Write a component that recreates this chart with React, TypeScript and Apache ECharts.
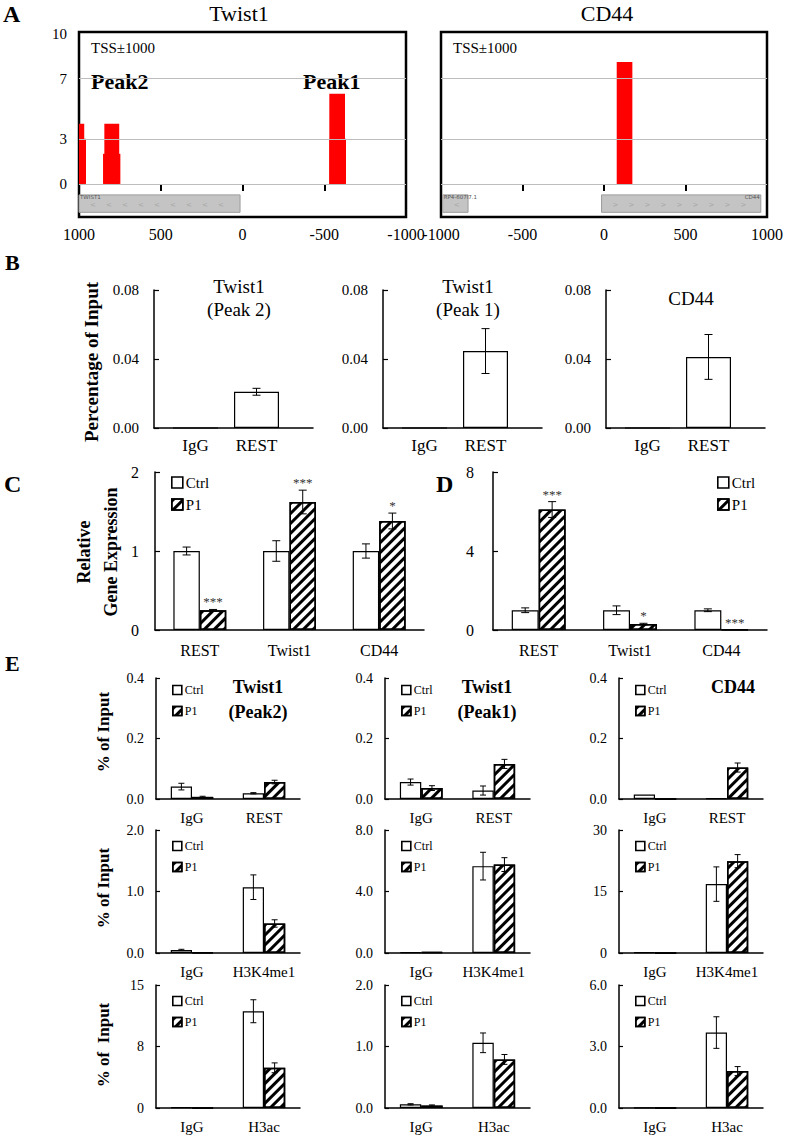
import React, { useEffect, useRef } from "react";
import * as echarts from "echarts";

const FONT = "'Liberation Serif', 'Times New Roman', Times, serif";

// ---------------- Panel A (peak tracks) ----------------
const aYLabels = [0, 3, 7, 10];
const aGridLevels = [0, 3, 7];
// [start, end, height]
const twistPeaks = [
  [1000, 968, 4.0],
  [1000, 957, 3.0],
  [845, 754, 4.0],
  [853, 747, 2.0],
  [-531, -627, 6.0],
  [-531, -633, 3.0],
];
const cd44Peaks = [[78, 174, 8.1]];
// [start, end]
const twistGenes = [[1000, 15]];
const twistGeneNames = ["TWIST1"];
const twistGeneDirs = ["<"];
const cd44Genes = [
  [-990, -834],
  [-15, 962],
];
const cd44GeneNames = ["RP4-607I7.1", "CD44"];
const cd44GeneDirs = ["<", ">"];

// ---------------- Panel B ----------------
const bCats = ["IgG", "REST"];
const bPeak2 = [0, 0.021];
const bPeak2Err = [0, 0.002];
const bPeak1 = [0, 0.0446];
const bPeak1Err = [0, 0.013];
const bCd44 = [0, 0.0412];
const bCd44Err = [0, 0.013];
const bTitles = ["Twist1\n(Peak 2)", "Twist1\n(Peak 1)", "CD44"];
const bYTicks = [0, 0.04, 0.08];

// ---------------- Panels C / D ----------------
const cdCats = ["REST", "Twist1", "CD44"];
const cCtrl = [1.0, 1.0, 1.0];
const cCtrlErr = [0.05, 0.13, 0.09];
const cP1 = [0.25, 1.62, 1.38];
const cP1Err = [0.01, 0.15, 0.1];
const cSig = ["***", "***", "*"];
const dCtrl = [1.0, 1.0, 1.0];
const dCtrlErr = [0.12, 0.22, 0.07];
const dP1 = [6.1, 0.3, 0.02];
const dP1Err = [0.4, 0.04, 0];
const dSig = ["***", "*", "***"];

// ---------------- Panel E ----------------
const eCatsRest = ["IgG", "REST"];
const eCatsH3K4 = ["IgG", "H3K4me1"];
const eCatsH3ac = ["IgG", "H3ac"];
// Twist1 Peak2
const eP2RestCtrl = [0.041, 0.019];
const eP2RestCtrlErr = [0.011, 0.002];
const eP2RestP1 = [0.007, 0.056];
const eP2RestP1Err = [0.002, 0.006];
const eP2K4Ctrl = [0.05, 1.07];
const eP2K4CtrlErr = [0.01, 0.2];
const eP2K4P1 = [0.01, 0.48];
const eP2K4P1Err = [0, 0.06];
const eP2AcCtrl = [0.08, 11.8];
const eP2AcCtrlErr = [0, 1.4];
const eP2AcP1 = [0.03, 4.9];
const eP2AcP1Err = [0, 0.6];
// Twist1 Peak1
const eP1RestCtrl = [0.056, 0.028];
const eP1RestCtrlErr = [0.01, 0.015];
const eP1RestP1 = [0.036, 0.116];
const eP1RestP1Err = [0.008, 0.015];
const eP1K4Ctrl = [0.05, 5.65];
const eP1K4CtrlErr = [0, 0.9];
const eP1K4P1 = [0.05, 5.75];
const eP1K4P1Err = [0, 0.45];
const eP1AcCtrl = [0.06, 1.06];
const eP1AcCtrlErr = [0.01, 0.16];
const eP1AcP1 = [0.04, 0.79];
const eP1AcP1Err = [0.01, 0.08];
// CD44
const eCdRestCtrl = [0.015, 0.002];
const eCdRestCtrlErr = [0, 0];
const eCdRestP1 = [0, 0.104];
const eCdRestP1Err = [0, 0.015];
const eCdK4Ctrl = [0.15, 16.8];
const eCdK4CtrlErr = [0, 4.2];
const eCdK4P1 = [0, 22.4];
const eCdK4P1Err = [0, 1.6];
const eCdAcCtrl = [0.02, 3.68];
const eCdAcCtrlErr = [0, 0.77];
const eCdAcP1 = [0, 1.8];
const eCdAcP1Err = [0, 0.22];
// axis ranges [max, interval, decimals] per row/col
const eRanges = [
  [
    [0.4, 0.2, 1],
    [0.4, 0.2, 1],
    [0.4, 0.2, 1],
  ],
  [
    [2, 1, 1],
    [8, 4, 1],
    [30, 15, 0],
  ],
  [
    [15, 7.5, 0],
    [2, 1, 1],
    [6, 3, 1],
  ],
];

const GAP = 0.41;
const HATCH = {
  symbol: "rect",
  symbolSize: 1,
  dashArrayX: [1, 0],
  dashArrayY: [3, 4],
  rotation: -Math.PI / 4,
  color: "#000",
  backgroundColor: "#fff",
};
const GENE_TOP = -0.73;
const GENE_BOT = -1.89;

function buildOption() {
  const grid: any[] = [];
  const xAxis: any[] = [];
  const yAxis: any[] = [];
  const series: any[] = [];
  const legend: any[] = [];
  const graphic: any[] = [];

  const txt = (text: string, x: number, y: number, o: any = {}) => ({
    type: "text",
    x,
    y,
    rotation: o.rot || 0,
    silent: true,
    style: {
      text,
      fontFamily: FONT,
      fontSize: o.size || 16,
      fontWeight: o.bold ? "bold" : "normal",
      fill: "#000",
      align: o.align || "center",
      verticalAlign: "middle",
      lineHeight: o.lh || undefined,
    },
  });

  const axLine = { show: true, lineStyle: { color: "#000", width: 1.5 } };
  const inTick = { show: true, inside: true, length: 5, lineStyle: { color: "#000", width: 1.2 } };

  // ---------- A ----------
  const peakRender = (params: any, api: any) => {
    const x0 = api.value(0);
    const x1 = api.value(1);
    const h = api.value(2);
    const p0 = api.coord([x0, h]);
    const p1 = api.coord([x1, 0]);
    return {
      type: "rect",
      shape: { x: Math.min(p0[0], p1[0]), y: p0[1], width: Math.abs(p1[0] - p0[0]), height: p1[1] - p0[1] },
      style: { fill: "#ff0000" },
    };
  };
  const geneRender = (names: string[], dirs: string[]) => (params: any, api: any) => {
    const s = api.value(0);
    const e = api.value(1);
    const p0 = api.coord([s, GENE_TOP]);
    const p1 = api.coord([e, GENE_BOT]);
    const x = Math.min(p0[0], p1[0]);
    const w = Math.abs(p1[0] - p0[0]);
    const y = p0[1];
    const h = p1[1] - p0[1];
    const dir = dirs[params.dataIndex];
    const children: any[] = [
      { type: "rect", shape: { x, y, width: w, height: h }, style: { fill: "#c4c4c4", stroke: "#9c9c9c", lineWidth: 1 } },
    ];
    for (let cx = x + 14; cx < x + w - 6; cx += 16) {
      children.push({
        type: "text",
        style: { text: dir, x: cx, y: y + h / 2 + 1, align: "center", verticalAlign: "middle", fontSize: 7, fill: "#a6a6a6", fontFamily: "DejaVu Sans" },
      });
    }
    children.push({
      type: "text",
      style: {
        text: names[params.dataIndex],
        x: dir === ">" ? x + w - 1 : x + 1,
        y: y + 2,
        align: dir === ">" ? "right" : "left",
        verticalAlign: "middle",
        fontSize: 5.5,
        fill: "#555",
        fontFamily: "DejaVu Sans",
      },
    });
    return { type: "group", children };
  };

  const aPanels = [
    { left: 79, width: 327, inverse: true, peaks: twistPeaks, genes: twistGenes, names: twistGeneNames, dirs: twistGeneDirs, labels: true },
    { left: 441, width: 326, inverse: false, peaks: cd44Peaks, genes: cd44Genes, names: cd44GeneNames, dirs: cd44GeneDirs, labels: false },
  ];
  aPanels.forEach((p) => {
    const gi = grid.length;
    grid.push({ left: p.left, top: 32, width: p.width, height: 185, show: true, borderColor: "#000", borderWidth: 2.5, backgroundColor: "transparent" });
    xAxis.push({
      type: "value",
      gridIndex: gi,
      min: -1000,
      max: 1000,
      interval: 500,
      inverse: p.inverse,
      axisLine: { show: false },
      axisTick: { show: true, inside: false, length: 7, lineStyle: { color: "#000", width: 2 } },
      splitLine: { show: false },
      axisLabel: { fontFamily: FONT, fontSize: 16, color: "#000", margin: 9, formatter: (v: number) => String(v) },
    });
    yAxis.push({
      type: "value",
      gridIndex: gi,
      min: -2.2,
      max: 10.1,
      axisLine: { show: false },
      axisTick: { show: false },
      splitLine: { show: false },
      axisLabel: p.labels
        ? { show: true, customValues: aYLabels, fontFamily: FONT, fontSize: 15, color: "#000", margin: 12, formatter: (v: number) => String(v) }
        : { show: false },
    });
    series.push({
      type: "custom",
      name: "genes" + gi,
      xAxisIndex: gi,
      yAxisIndex: gi,
      z: 1,
      silent: true,
      encode: { x: [0, 1] },
      data: p.genes,
      renderItem: geneRender(p.names, p.dirs),
      markLine: {
        silent: true,
        symbol: ["none", "none"],
        label: { show: false },
        lineStyle: { color: "#bdbdbd", width: 1, type: "solid" },
        data: aGridLevels.map((v) => ({ yAxis: v })),
      },
    });
    series.push({
      type: "custom",
      name: "peaks" + gi,
      xAxisIndex: gi,
      yAxisIndex: gi,
      z: 3,
      silent: true,
      encode: { x: [0, 1], y: 2 },
      data: p.peaks,
      renderItem: peakRender,
    });
  });
  graphic.push(txt("A", 3, 14, { size: 24, bold: true, align: "left" }));
  graphic.push(txt("Twist1", 239, 13, { size: 22 }));
  graphic.push(txt("CD44", 607, 13, { size: 22 }));
  graphic.push(txt("TSS\u00b11000", 91, 48, { size: 15, align: "left" }));
  graphic.push(txt("TSS\u00b11000", 453, 48, { size: 15, align: "left" }));
  graphic.push(txt("Peak2", 91, 81, { size: 22, bold: true, align: "left" }));
  graphic.push(txt("Peak1", 303, 81, { size: 22, bold: true, align: "left" }));

  // ---------- error bars ----------
  const errSeries = (gi: number, means: number[], errs: number[], side: number, sigs: string[] | null, cap: number) => ({
    type: "custom",
    name: "err" + gi + "_" + side,
    xAxisIndex: gi,
    yAxisIndex: gi,
    silent: true,
    z: 5,
    encode: { x: 0, y: 1 },
    data: means.map((m, i) => [i, m, errs[i]]),
    renderItem: (params: any, api: any) => {
      const i = api.value(0);
      const m = api.value(1);
      const e = api.value(2);
      const base = api.coord([i, m]);
      const band = api.size([1, 0])[0];
      const x = base[0] + (side * band * (1 - GAP)) / 4;
      const yt = api.coord([i, m + e])[1];
      const yb = api.coord([i, m - e])[1];
      const children: any[] = [];
      if (e > 0) {
        const st = { stroke: "#000", lineWidth: 1 };
        children.push({ type: "line", shape: { x1: x, y1: yt, x2: x, y2: yb }, style: st });
        children.push({ type: "line", shape: { x1: x - cap, y1: yt, x2: x + cap, y2: yt }, style: st });
        children.push({ type: "line", shape: { x1: x - cap, y1: yb, x2: x + cap, y2: yb }, style: st });
      }
      const s = sigs ? sigs[params.dataIndex] : "";
      if (s) {
        children.push({
          type: "text",
          style: { text: s, x, y: yt - 1, align: "center", verticalAlign: "bottom", fontSize: 13, fontFamily: FONT, fill: "#333" },
        });
      }
      return { type: "group", children };
    },
  });

  // ---------- B ----------
  const bData = [
    [bPeak2, bPeak2Err],
    [bPeak1, bPeak1Err],
    [bCd44, bCd44Err],
  ];
  const bLefts = [154, 383, 606];
  bLefts.forEach((left, k) => {
    const gf = grid.length;
    grid.push({ left, top: 290, width: 159, height: 138 });
    xAxis.push({ type: "value", gridIndex: gf, min: 0, max: 1, axisLine: axLine, axisTick: { show: false }, axisLabel: { show: false }, splitLine: { show: false } });
    yAxis.push({
      type: "value",
      gridIndex: gf,
      min: bYTicks[0],
      max: bYTicks[2],
      interval: bYTicks[1],
      axisLine: axLine,
      axisTick: inTick,
      splitLine: { show: false },
      axisLabel: { fontFamily: FONT, fontSize: 15, color: "#000", margin: 15, formatter: (v: number) => v.toFixed(2) },
    });
    const gd = grid.length;
    grid.push({ left: left + 11, top: 290, width: 122, height: 138 });
    xAxis.push({
      type: "category",
      gridIndex: gd,
      data: bCats,
      axisLine: { show: false },
      axisTick: { show: false },
      axisLabel: { interval: 0, fontFamily: FONT, fontSize: 17, color: "#000", margin: 9 },
    });
    yAxis.push({ type: "value", gridIndex: gd, min: 0, max: 0.08, show: false });
    series.push({
      type: "bar",
      name: "B" + k,
      xAxisIndex: gd,
      yAxisIndex: gd,
      barWidth: 45,
      data: bData[k][0],
      itemStyle: { color: "#fff", borderColor: "#000", borderWidth: 1.2 },
    });
    series.push(errSeries(gd, bData[k][0], bData[k][1], 0, null, 4));
    graphic.push(txt(bTitles[k], left + 85, 298, { size: 19, lh: 23 }));
  });
  graphic.push(txt("B", 5, 262, { size: 22, bold: true, align: "left" }));
  graphic.push(txt("Percentage of Input", 91, 362, { size: 19, bold: true, rot: Math.PI / 2 }));

  // ---------- C / D ----------
  const cdPanels = [
    { left: 155, width: 269, max: 2, step: 1, ctrl: cCtrl, ctrlErr: cCtrlErr, p1: cP1, p1Err: cP1Err, sig: cSig, legLeft: 166, margin: 16 },
    { left: 493, width: 274, max: 8, step: 4, ctrl: dCtrl, ctrlErr: dCtrlErr, p1: dP1, p1Err: dP1Err, sig: dSig, legLeft: 712, margin: 19 },
  ];
  cdPanels.forEach((p) => {
    const gi = grid.length;
    grid.push({ left: p.left, top: 472, width: p.width, height: 158 });
    xAxis.push({
      type: "category",
      gridIndex: gi,
      data: cdCats,
      axisLine: axLine,
      axisTick: { show: false },
      axisLabel: { interval: 0, fontFamily: FONT, fontSize: 16, color: "#000", margin: 12 },
    });
    yAxis.push({
      type: "value",
      gridIndex: gi,
      min: 0,
      max: p.max,
      interval: p.step,
      axisLine: axLine,
      axisTick: inTick,
      splitLine: { show: false },
      axisLabel: { fontFamily: FONT, fontSize: 16, color: "#000", margin: p.margin },
    });
    series.push({
      type: "bar",
      name: "Ctrl",
      xAxisIndex: gi,
      yAxisIndex: gi,
      barGap: "0%",
      barCategoryGap: GAP * 100 + "%",
      data: p.ctrl,
      itemStyle: { color: "#fff", borderColor: "#000", borderWidth: 1.2 },
    });
    series.push({
      type: "bar",
      name: "P1",
      xAxisIndex: gi,
      yAxisIndex: gi,
      barGap: "0%",
      barCategoryGap: GAP * 100 + "%",
      data: p.p1,
      itemStyle: { color: "#fff", borderColor: "#000", borderWidth: 1.5, decal: HATCH },
    });
    series.push(errSeries(gi, p.ctrl, p.ctrlErr, -1, null, 4));
    series.push(errSeries(gi, p.p1, p.p1Err, 1, p.sig, 4));
    legend.push({
      data: ["Ctrl", "P1"],
      orient: "vertical",
      left: p.legLeft,
      top: 470,
      icon: "rect",
      itemWidth: 11,
      itemHeight: 11,
      itemGap: 7,
      selectedMode: false,
      itemStyle: { borderWidth: 1.6, borderColor: "#000" },
      textStyle: { fontFamily: FONT, fontSize: 15, color: "#000", padding: [0, 0, 0, -2] },
    });
  });
  graphic.push(txt("C", 4, 484, { size: 24, bold: true, align: "left" }));
  graphic.push(txt("D", 436, 484, { size: 24, bold: true, align: "left" }));
  graphic.push(txt("Relative", 84, 552, { size: 18, bold: true, rot: Math.PI / 2 }));
  graphic.push(txt("Gene Expression", 111, 552, { size: 18, bold: true, rot: Math.PI / 2 }));

  // ---------- E ----------
  const eData = [
    [
      [eCatsRest, eP2RestCtrl, eP2RestCtrlErr, eP2RestP1, eP2RestP1Err],
      [eCatsRest, eP1RestCtrl, eP1RestCtrlErr, eP1RestP1, eP1RestP1Err],
      [eCatsRest, eCdRestCtrl, eCdRestCtrlErr, eCdRestP1, eCdRestP1Err],
    ],
    [
      [eCatsH3K4, eP2K4Ctrl, eP2K4CtrlErr, eP2K4P1, eP2K4P1Err],
      [eCatsH3K4, eP1K4Ctrl, eP1K4CtrlErr, eP1K4P1, eP1K4P1Err],
      [eCatsH3K4, eCdK4Ctrl, eCdK4CtrlErr, eCdK4P1, eCdK4P1Err],
    ],
    [
      [eCatsH3ac, eP2AcCtrl, eP2AcCtrlErr, eP2AcP1, eP2AcP1Err],
      [eCatsH3ac, eP1AcCtrl, eP1AcCtrlErr, eP1AcP1, eP1AcP1Err],
      [eCatsH3ac, eCdAcCtrl, eCdAcCtrlErr, eCdAcP1, eCdAcP1Err],
    ],
  ];
  const colLeft = [156, 385, 619];
  const colWidth = [144, 145, 144];
  const rowTop = [678, 830, 985];
  const rowHeight = [121, 123, 123];
  const legTop = [679, 835, 990];
  for (let r = 0; r < 3; r++) {
    for (let c = 0; c < 3; c++) {
      const gi = grid.length;
      const d: any = eData[r][c];
      const [max, step, dec] = eRanges[r][c];
      grid.push({ left: colLeft[c], top: rowTop[r], width: colWidth[c], height: rowHeight[r] });
      xAxis.push({
        type: "category",
        gridIndex: gi,
        data: d[0],
        axisLine: axLine,
        axisTick: { show: false },
        axisLabel: { interval: 0, fontFamily: FONT, fontSize: 15, color: "#000", margin: 11 },
      });
      yAxis.push({
        type: "value",
        gridIndex: gi,
        min: 0,
        max,
        interval: step,
        axisLine: axLine,
        axisTick: { ...inTick, length: 4 },
        splitLine: { show: false },
        axisLabel: { fontFamily: FONT, fontSize: 14, color: "#000", margin: 12, formatter: (v: number) => v.toFixed(dec) },
      });
      series.push({
        type: "bar",
        name: "Ctrl",
        xAxisIndex: gi,
        yAxisIndex: gi,
        barGap: "0%",
        barCategoryGap: GAP * 100 + "%",
        data: d[1],
        itemStyle: { color: "#fff", borderColor: "#000", borderWidth: 1.2 },
      });
      series.push({
        type: "bar",
        name: "P1",
        xAxisIndex: gi,
        yAxisIndex: gi,
        barGap: "0%",
        barCategoryGap: GAP * 100 + "%",
        data: d[3],
        itemStyle: { color: "#fff", borderColor: "#000", borderWidth: 1.5, decal: HATCH },
      });
      series.push(errSeries(gi, d[1], d[2], -1, null, 3));
      series.push(errSeries(gi, d[3], d[4], 1, null, 3));
      legend.push({
        data: ["Ctrl", "P1"],
        orient: "vertical",
        left: colLeft[c] + 11,
        top: legTop[r],
        icon: "rect",
        itemWidth: 9,
        itemHeight: 9,
        itemGap: 9,
        selectedMode: false,
        itemStyle: { borderWidth: 1.6, borderColor: "#000" },
        textStyle: { fontFamily: FONT, fontSize: 12, color: "#000", padding: [0, 0, 0, -2] },
      });
    }
  }
  graphic.push(txt("E", 5, 663, { size: 22, bold: true, align: "left" }));
  graphic.push(txt("Twist1\n(Peak2)", 258, 699, { size: 18, bold: true, lh: 25 }));
  graphic.push(txt("Twist1\n(Peak1)", 487, 699, { size: 18, bold: true, lh: 25 }));
  graphic.push(txt("CD44", 733, 687, { size: 18, bold: true }));
  graphic.push(txt("% of Input", 103, 732, { size: 17, bold: true, rot: Math.PI / 2 }));
  graphic.push(txt("% of Input", 103, 888, { size: 17, bold: true, rot: Math.PI / 2 }));
  graphic.push(txt("% of  Input", 103, 1045, { size: 17, bold: true, rot: Math.PI / 2 }));

  return {
    animation: false,
    backgroundColor: "#fff",
    textStyle: { fontFamily: FONT },
    grid,
    xAxis,
    yAxis,
    series,
    legend,
    graphic,
  };
}

export default function App() {
  const ref = useRef<HTMLDivElement>(null);
  useEffect(() => {
    document.body.style.margin = "0";
    document.body.style.overflow = "hidden";
    const chart = echarts.init(ref.current as HTMLDivElement, undefined, { renderer: "svg" });
    chart.setOption(buildOption() as any);
    return () => chart.dispose();
  }, []);
  return <div ref={ref} style={{ width: 787, height: 1139 }} />;
}
